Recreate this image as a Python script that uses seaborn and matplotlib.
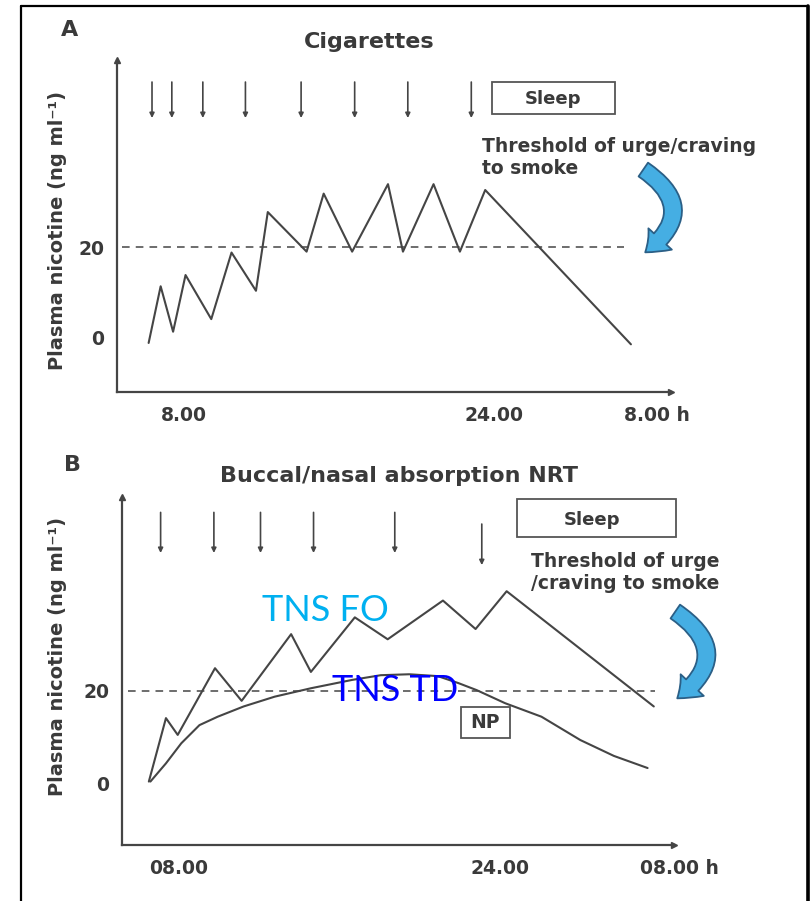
import numpy as np
import pandas as pd
import seaborn as sns
import matplotlib
matplotlib.use("Agg")
import matplotlib.pyplot as plt
from matplotlib.patches import FancyArrowPatch, Rectangle
from matplotlib.lines import Line2D
import matplotlib.transforms as mtransforms

# ---------------- data ----------------
# Panel A: cigarettes
cig_hours = [7.13, 7.70, 8.29, 8.88, 10.10, 11.06, 12.22, 12.78, 14.62, 15.43,
             16.78, 18.48, 19.19, 20.64, 21.89, 23.09, 30.0]
cig_nicotine = [-1.3, 11.3, 1.2, 13.8, 4.0, 18.8, 10.3, 27.8, 19.0, 31.9,
                19.0, 34.0, 19.0, 34.0, 19.0, 32.7, -1.6]
cig_dose_hours = [7.29, 8.23, 9.70, 11.72, 14.36, 16.9, 19.42, 22.43]
cig_dose_top = [56.7] * 8
cig_dose_bottom = [48.7] * 8

# Panel B: buccal/nasal NRT (TNS FO) and patch (TNS TD / NP)
fo_hours = [6.82, 7.59, 8.12, 9.80, 11.0, 13.23, 14.12, 16.10, 17.58, 20.07,
            21.54, 22.94, 29.57]
fo_nicotine = [0.5, 14.1, 10.5, 24.8, 17.8, 32.1, 24.0, 35.7, 31.0, 39.3,
               33.2, 41.3, 16.6]
td_hours = [6.89, 7.59, 8.28, 9.10, 9.92, 11.09, 12.49, 14.12, 15.99, 17.27,
            18.55, 19.84, 20.77, 21.59, 22.87, 24.51, 26.26, 27.77, 29.29]
td_nicotine = [0.5, 4.4, 8.7, 12.6, 14.4, 16.6, 18.7, 20.5, 22.3, 23.3,
               23.5, 23.1, 21.6, 20.1, 17.3, 14.4, 9.4, 6.0, 3.4]
nrt_dose_hours = [7.35, 9.75, 11.85, 14.24, 17.90, 21.82]
nrt_dose_top = [58.2, 58.2, 58.2, 58.2, 58.2, 55.7]
nrt_dose_bottom = [49.5, 49.5, 49.5, 49.5, 49.5, 46.9]

threshold = 20
threshold_span_a = (5.87, 29.66)
threshold_span_b = (5.88, 29.62)

xtick_pos = [8, 24, 30]
xtick_labels_a = ["8.00", "24.00", "8.00 h"]
xtick_labels_b = ["08.00", "24.00", "08.00 h"]
ytick_pos = [0, 20]
ytick_labels = ["0", "20"]

# ---------------- style ----------------
sns.set_style("white")
plt.rcParams["font.family"] = ["DejaVu Sans"]
TXT = "#3a3a3a"
LINE = "#454545"

W, H = 811, 901
fig = plt.figure(figsize=(W / 100, H / 100), dpi=100)


def fx(px):
    return px / W


def fy(py):
    return 1 - py / H


def make_axes(left, right, top, bottom, xlim, ylim):
    ax = fig.add_axes([fx(left), fy(bottom), fx(right - left), (bottom - top) / H])
    ax.set_xlim(*xlim)
    ax.set_ylim(*ylim)
    for s in ["top", "right"]:
        ax.spines[s].set_visible(False)
    for s in ["left", "bottom"]:
        ax.spines[s].set_color(LINE)
        ax.spines[s].set_linewidth(1.6)
    ax.set_facecolor("none")
    ax.plot([1], [0], marker=">", ms=5, color=LINE, transform=ax.transAxes, clip_on=False)
    ax.plot([0], [1], marker="^", ms=4, color=LINE, transform=ax.transAxes, clip_on=False)
    ax.tick_params(axis="x", direction="in", length=6, width=1.2, color=LINE, pad=10,
                   labelsize=13.5, labelcolor=TXT)
    ax.tick_params(axis="y", direction="out", length=5, width=1.2, color=LINE, pad=4,
                   labelsize=13.5, labelcolor=TXT)
    ax.set_yticks(ytick_pos)
    ax.set_yticklabels(ytick_labels, fontweight="bold")
    return ax


def shift_xlabels(ax, offsets_px):
    for lab, dx in zip(ax.get_xticklabels(), offsets_px):
        lab.set_transform(lab.get_transform() +
                          mtransforms.ScaledTranslation(dx / 100, 0, fig.dpi_scale_trans))


def dose_arrows(ax, xs, tops, bottoms):
    for x, t, b in zip(xs, tops, bottoms):
        ax.annotate("", xy=(x, b), xytext=(x, t),
                    arrowprops=dict(arrowstyle="-|>", color=LINE, lw=1.2,
                                    mutation_scale=7, shrinkA=0, shrinkB=0))


def curved_arrow(p_from, p_to, rad):
    arr = FancyArrowPatch((fx(p_from[0]), fy(p_from[1])), (fx(p_to[0]), fy(p_to[1])),
                          transform=fig.transFigure,
                          connectionstyle=f"arc3,rad={rad}",
                          arrowstyle="simple,head_length=0.6,head_width=0.95,tail_width=0.5",
                          mutation_scale=24, facecolor="#45aee3", edgecolor="#2b5f86",
                          lw=1.3, zorder=5)
    fig.patches.append(arr)


# ---------------- Panel A ----------------
axA = make_axes(117, 671, 60, 392, (5.63, 31.9), (-12.2, 61.6))
sns.lineplot(x=cig_hours, y=cig_nicotine, ax=axA, color=LINE, lw=1.5,
             estimator=None, sort=False)
axA.hlines(threshold, *threshold_span_a, colors=LINE, lw=1.1, linestyles=(0, (5, 4)))
dose_arrows(axA, cig_dose_hours, cig_dose_top, cig_dose_bottom)
axA.set_xticks(xtick_pos)
axA.set_xticklabels(xtick_labels_a, fontweight="bold")
shift_xlabels(axA, [17, -10, 26])
axA.set_ylabel("Plasma nicotine (ng ml⁻¹)", fontsize=14, fontweight="bold", color=TXT)
axA.yaxis.set_label_coords(-0.09, 0.485)
axA.add_patch(Rectangle((0.677, 0.837), 0.222, 0.097, transform=axA.transAxes,
                        fill=False, edgecolor="#555555", lw=1.3, clip_on=False))
axA.text(0.787, 0.882, "Sleep", transform=axA.transAxes, ha="center", va="center",
         fontsize=13, fontweight="bold", color=TXT)
axA.text(0.659, 0.705, "Threshold of urge/craving\nto smoke", transform=axA.transAxes,
         ha="left", va="center", fontsize=13.5, fontweight="bold", color=TXT,
         linespacing=1.2)
fig.text(fx(70), fy(30), "A", ha="center", va="center", fontsize=16,
         fontweight="bold", color=TXT)
fig.text(fx(369), fy(42), "Cigarettes", ha="center", va="center", fontsize=16,
         fontweight="bold", color=TXT)
curved_arrow((641, 168), (643, 254), -0.72)

# ---------------- Panel B ----------------
axB = make_axes(122, 674, 497, 845, (5.61, 30.48), (-13.1, 61.5))
sns.lineplot(x=fo_hours, y=fo_nicotine, ax=axB, color=LINE, lw=1.5,
             estimator=None, sort=False)
sns.lineplot(x=td_hours, y=td_nicotine, ax=axB, color=LINE, lw=1.5,
             estimator=None, sort=False)
axB.hlines(threshold, *threshold_span_b, colors=LINE, lw=1.1, linestyles=(0, (5, 4)))
dose_arrows(axB, nrt_dose_hours, nrt_dose_top, nrt_dose_bottom)
axB.set_xticks(xtick_pos)
axB.set_xticklabels(xtick_labels_b, fontweight="bold")
shift_xlabels(axB, [4, -30, 16])
axB.set_ylabel("Plasma nicotine (ng ml⁻¹)", fontsize=14, fontweight="bold", color=TXT)
axB.yaxis.set_label_coords(-0.0996, 0.543)
axB.add_patch(Rectangle((0.715, 0.885), 0.289, 0.109, transform=axB.transAxes,
                        fill=False, edgecolor="#555555", lw=1.3, clip_on=False))
axB.text(0.851, 0.933, "Sleep", transform=axB.transAxes, ha="center", va="center",
         fontsize=13, fontweight="bold", color=TXT)
axB.text(0.741, 0.784, "Threshold of urge\n/craving to smoke", transform=axB.transAxes,
         ha="left", va="center", fontsize=13.5, fontweight="bold", color=TXT,
         linespacing=1.2)
axB.add_patch(Rectangle((0.614, 0.307), 0.089, 0.090, transform=axB.transAxes,
                        fill=False, edgecolor="#555555", lw=1.3, clip_on=False))
axB.text(0.658, 0.352, "NP", transform=axB.transAxes, ha="center", va="center",
         fontsize=13.5, fontweight="bold", color=TXT)
axB.text(0.368, 0.675, "TNS FO", transform=axB.transAxes, ha="center", va="center",
         fontsize=26, color="#00b0f0", family=["Lato", "DejaVu Sans"], zorder=6)
axB.text(0.495, 0.445, "TNS TD", transform=axB.transAxes, ha="center", va="center",
         fontsize=26, color="#0000ff", family=["Lato", "DejaVu Sans"], zorder=6)
fig.text(fx(72), fy(465), "B", ha="center", va="center", fontsize=16,
         fontweight="bold", color=TXT)
fig.text(fx(399), fy(476), "Buccal/nasal absorption NRT", ha="center", va="center",
         fontsize=16, fontweight="bold", color=TXT)
curved_arrow((673, 610), (675, 700), -0.72)

# ---------------- outer frame ----------------
fig.add_artist(Line2D([fx(21), fx(21)], [fy(6), 0], transform=fig.transFigure,
                      color="black", lw=1.6))
fig.add_artist(Line2D([fx(21), fx(808)], [fy(6), fy(6)], transform=fig.transFigure,
                      color="black", lw=1.6))
fig.add_artist(Line2D([fx(808), fx(808)], [fy(6), 0], transform=fig.transFigure,
                      color="black", lw=2.6))

fig.savefig("out.png", dpi=100, facecolor="white")
